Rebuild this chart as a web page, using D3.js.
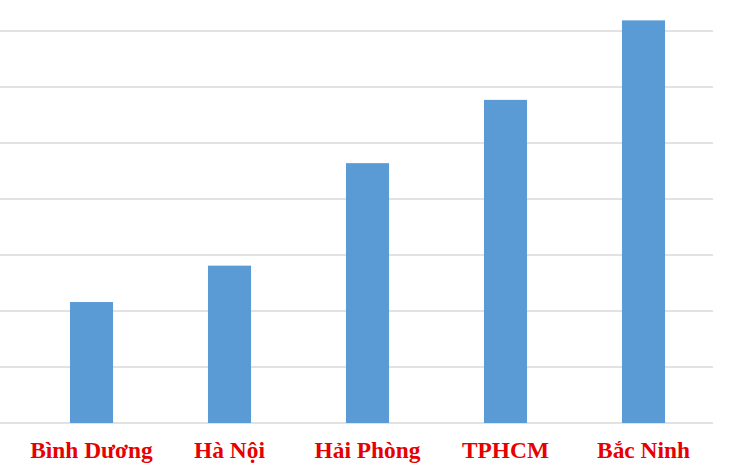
<!DOCTYPE html>
<html><head><meta charset="utf-8">
<script src="https://cdn.jsdelivr.net/npm/d3@7"></script>
<style>html,body{margin:0;padding:0;background:#fff;}svg{display:block;}</style>
</head><body>
<svg id="c" width="735" height="472"></svg>
<script>
const categories = ["Bình Dương", "Hà Nội", "Hải Phòng", "TPHCM", "Bắc Ninh"];
const values = [2.16, 2.81, 4.64, 5.77, 7.19];
const gridTicks = [0, 1, 2, 3, 4, 5, 6, 7];

const svg = d3.select("#c");
const x = d3.scaleBand().domain(categories).range([22.5, 712.5]).paddingInner(0.688).paddingOuter(0.344);
const y = d3.scaleLinear().domain([0, 7]).range([423, 31]);

svg.append("g").selectAll("line").data(gridTicks).join("line")
  .attr("x1", 0).attr("x2", 713)
  .attr("y1", d => y(d)).attr("y2", d => y(d))
  .attr("stroke", "#d9d9d9").attr("stroke-width", 1.3);

svg.append("g").selectAll("rect").data(values).join("rect")
  .attr("x", (d, i) => x(categories[i]))
  .attr("width", x.bandwidth())
  .attr("y", d => y(d))
  .attr("height", d => y(0) - y(d))
  .attr("fill", "#5b9bd5");

const xAxis = d3.axisBottom(x).tickSize(0).tickPadding(0);
const ax = svg.append("g").attr("transform", "translate(0,457.5)").call(xAxis);
ax.select(".domain").remove();
ax.selectAll("text")
  .attr("dy", 0)
  .attr("font-family", "'Liberation Serif', 'Times New Roman', serif")
  .attr("font-size", 23.4)
  .attr("font-weight", "bold")
  .attr("fill", "#e60000");
</script>
</body></html>
